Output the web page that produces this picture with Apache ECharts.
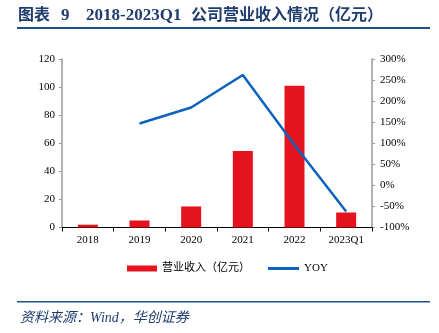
<!DOCTYPE html>
<html>
<head>
<meta charset="utf-8">
<script src="https://cdn.jsdelivr.net/npm/echarts@6/dist/echarts.min.js"></script>
<style>
html,body{margin:0;padding:0;background:#fff;}
#main{width:439px;height:333px;}
</style>
</head>
<body>
<div id="main"></div>
<script>
var categories = ['2018', '2019', '2020', '2021', '2022', '2023Q1'];
var revenue = [2, 5, 15, 54.5, 101, 10.7];
var yoy = [null, 147, 185, 262, 96, -62];
var revenueName = '营业收入（亿元）';
var yoyName = 'YOY';
var titleParts = ['图表', '9', '2018-2023Q1', '公司营业收入情况（亿元）'];
var sourceText = '资料来源：Wind，华创证券';

var serif = '"Liberation Serif", "Noto Sans CJK SC", serif';
var navy = '#1F3C6E';

function titleText(txt, x, size) {
  return {type: 'text', x: x, y: 16, style: {text: txt, font: 'bold ' + size + 'px ' + serif, fill: navy, textVerticalAlign: 'middle'}};
}

var chart = echarts.init(document.getElementById('main'), null, {renderer: 'canvas'});
chart.setOption({
  animation: false,
  backgroundColor: '#fff',
  textStyle: {fontFamily: serif},
  graphic: [
    titleText(titleParts[0], 18, 16),
    titleText(titleParts[1], 61, 17),
    titleText(titleParts[2], 86, 17),
    titleText(titleParts[3], 191, 16),
    {type: 'rect', shape: {x: 17, y: 27, width: 413, height: 2}, style: {fill: '#1F4E8C'}},
    {type: 'rect', shape: {x: 17, y: 301, width: 413, height: 1.5}, style: {fill: '#1F4E8C'}},
    {type: 'text', x: 20, y: 318, style: {text: sourceText, font: 'italic 14px ' + serif, fill: navy, textVerticalAlign: 'middle'}}
  ],
  grid: {left: 62, right: 67, top: 59, bottom: 105.5, containLabel: false},
  legend: [
    {
      left: 122, top: 258, itemWidth: 30, itemHeight: 6,
      textStyle: {fontFamily: serif, fontSize: 11, color: '#000'},
      data: [{name: revenueName, icon: 'rect'}]
    },
    {
      left: 263, top: 258, itemWidth: 31, itemHeight: 3,
      textStyle: {fontFamily: serif, fontSize: 11, color: '#000'},
      data: [{name: yoyName, icon: 'rect'}]
    }
  ],
  xAxis: {
    type: 'category', data: categories, boundaryGap: true,
    axisLine: {lineStyle: {color: '#000', width: 1}},
    axisTick: {show: true, length: 4, alignWithLabel: false, lineStyle: {color: '#000'}},
    axisLabel: {color: '#000', fontSize: 11, fontFamily: serif, margin: 7}
  },
  yAxis: [
    {
      type: 'value', min: 0, max: 120, interval: 20,
      axisLine: {show: true, lineStyle: {color: '#999', width: 1.5}},
      axisTick: {show: true, length: 3, lineStyle: {color: '#999'}},
      splitLine: {show: false},
      axisLabel: {color: '#000', fontSize: 11, fontFamily: serif, margin: 7}
    },
    {
      type: 'value', min: -100, max: 300, interval: 50,
      axisLine: {show: true, lineStyle: {color: '#999', width: 1.5}},
      axisTick: {show: true, length: 3, inside: false, lineStyle: {color: '#999'}},
      splitLine: {show: false},
      axisLabel: {color: '#000', fontSize: 11, fontFamily: serif, margin: 8, formatter: '{value}%'}
    }
  ],
  series: [
    {
      name: revenueName, type: 'bar', data: revenue, barWidth: 20, yAxisIndex: 0,
      itemStyle: {color: '#E5131D'}
    },
    {
      name: yoyName, type: 'line', data: yoy, yAxisIndex: 1, symbol: 'none',
      connectNulls: false,
      lineStyle: {color: '#0B63BE', width: 2.5},
      itemStyle: {color: '#0B63BE'}
    }
  ]
});
</script>
</body>
</html>
